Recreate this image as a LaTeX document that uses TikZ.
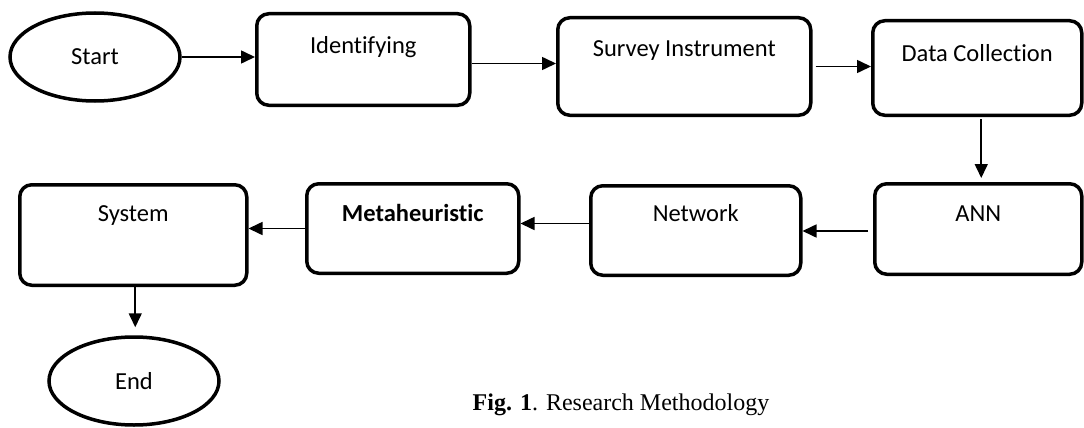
\documentclass[tikz,border=0pt]{standalone}
\usepackage{fontspec}
\setmainfont{Carlito}[Ligatures={NoCommon}]
\newfontfamily\capfont{Liberation Serif}
\usetikzlibrary{arrows.meta,shapes.geometric}

\begin{document}
\begin{tikzpicture}[x=1pt, y=-1pt, >={Triangle[length=14pt,width=13pt]},
    box/.style={rectangle, draw, rounded corners=12pt, line width=3.5pt, inner xsep=0pt, inner ysep=0pt,
        anchor=north west, font=\fontsize{24.5}{29}\selectfont},
    term/.style={ellipse, draw, line width=3.5pt, inner sep=0pt, minimum width=170pt, minimum height=88pt,
        font=\fontsize{24.5}{29}\selectfont},
    arr/.style={->, line width=1.6pt}]
    \useasboundingbox (0,0) rectangle (1084,428);

    \node[term] (start) at (95,57) {Start};
    \node[box, minimum width=213pt, text height=40pt, text depth=51.5pt] (ident) at (255,12) {Identifying};
    \node[box, minimum width=253pt, text height=39pt, text depth=58.5pt] (survey) at (556,16) {Survey Instrument};
    \node[box, minimum width=209pt, text height=41pt, text depth=53.5pt] (data) at (871,19) {Data Collection};
    \node[box, minimum width=207pt, text height=38pt, text depth=52.5pt] (ann) at (873,182) {ANN};
    \node[box, minimum width=210pt, text height=36pt, text depth=53.5pt] (network) at (589,184) {Network};
    \node[box, minimum width=212pt, text height=38pt, text depth=51.5pt, font=\fontsize{24.5}{29}\selectfont\bfseries] (meta) at (305,182) {Metaheuristic};
    \node[box, minimum width=227pt, text height=37pt, text depth=63.5pt] (system) at (18,183) {System};
    \node[term] (end) at (134,381) {End};
    \node[font=\capfont\fontsize{24}{29}\selectfont] (caption) at (621,405) {\textbf{Fig. 1}. Research Methodology};

    \draw[arr] (start.east) -- (start.east -| ident.west);
    \draw[arr] ([yshift=-4pt]ident.east) -- ([yshift=-4pt]ident.east -| survey.west);
    \draw[arr, shorten <=3pt] (survey.east) -- (survey.east -| data.west);
    \draw[arr, shorten <=2pt, shorten >=4pt] ([xshift=4pt]data.south) -- ([xshift=4pt]data.south |- ann.north);
    \draw[arr, shorten <=5pt] ([yshift=-2pt]ann.west) -- ([yshift=-2pt]ann.west -| network.east);
    \draw[arr] ([yshift=7pt]network.west) -- ([yshift=7pt]network.west -| meta.east);
    \draw[arr] (meta.west) -- (meta.west -| system.east);
    \draw[arr, shorten >=8pt] ([xshift=2pt]system.south) -- ([xshift=2pt]system.south |- end.north);
\end{tikzpicture}
\end{document}
